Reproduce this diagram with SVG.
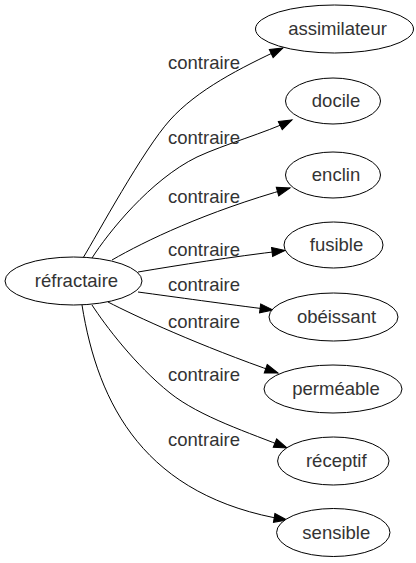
<svg xmlns="http://www.w3.org/2000/svg" width="416" height="563" viewBox="0 0 416 563">
<style>
.node ellipse{fill:#fff;stroke:#000;stroke-width:1}
text{font-family:"Liberation Sans",Arial,sans-serif;font-size:18.5px;fill:#333;text-anchor:middle}
.edge path{fill:none;stroke:#000;stroke-width:1;marker-end:url(#arr)}
</style>
<defs>
<marker id="arr" markerUnits="userSpaceOnUse" markerWidth="13" markerHeight="10" refX="13" refY="4.5" orient="auto" overflow="visible">
<path d="M0,0 L13,4.5 L0,9 z" fill="#000" stroke="#000" stroke-width="1"/>
</marker>
</defs>
<rect width="416" height="563" fill="#fff"/>
<g id="edges" class="edge">
<path d="M83,258 C97,235 143,150 170,120 C197,90 240,68 283,48"/>
<path d="M92,258 C108,233 150,180 197,157 C225,144 265,133 292,120"/>
<path d="M112,260 C145,241 205,212 290,188"/>
<path d="M138,272 C180,265 230,257 285,250.5"/>
<path d="M138,292 C175,297 225,304 273,310"/>
<path d="M108,302 C135,316 200,346 278,373"/>
<path d="M92,305 C105,325 135,365 170,393 C200,417 250,433 287,448"/>
<path d="M82,305 C98,405 145,497 287,520"/>
</g>
<g id="edge-labels">
<text x="204" y="69">contraire</text>
<text x="204" y="144">contraire</text>
<text x="204" y="203">contraire</text>
<text x="204" y="256">contraire</text>
<text x="204" y="291">contraire</text>
<text x="204" y="328">contraire</text>
<text x="204" y="381">contraire</text>
<text x="204" y="446">contraire</text>
</g>
<g id="n-refractaire" class="node"><ellipse cx="73.5" cy="281" rx="68.5" ry="24"/><text x="76.5" y="287">réfractaire</text></g>
<g id="n-assimilateur" class="node"><ellipse cx="334.5" cy="29" rx="79" ry="24"/><text x="337.5" y="35">assimilateur</text></g>
<g id="n-docile" class="node"><ellipse cx="333" cy="101" rx="47.5" ry="23"/><text x="336" y="107">docile</text></g>
<g id="n-enclin" class="node"><ellipse cx="333" cy="175" rx="47.5" ry="23"/><text x="336" y="181">enclin</text></g>
<g id="n-fusible" class="node"><ellipse cx="333.5" cy="245" rx="49.5" ry="23"/><text x="336.5" y="251">fusible</text></g>
<g id="n-obeissant" class="node"><ellipse cx="333.5" cy="317" rx="64.5" ry="24"/><text x="336.5" y="323">obéissant</text></g>
<g id="n-permeable" class="node"><ellipse cx="333" cy="389" rx="69" ry="24"/><text x="336" y="395">perméable</text></g>
<g id="n-receptif" class="node"><ellipse cx="333.3" cy="461" rx="55.7" ry="24"/><text x="336.3" y="467">réceptif</text></g>
<g id="n-sensible" class="node"><ellipse cx="333.3" cy="532.5" rx="56.7" ry="24"/><text x="336.3" y="538.5">sensible</text></g>
</svg>
